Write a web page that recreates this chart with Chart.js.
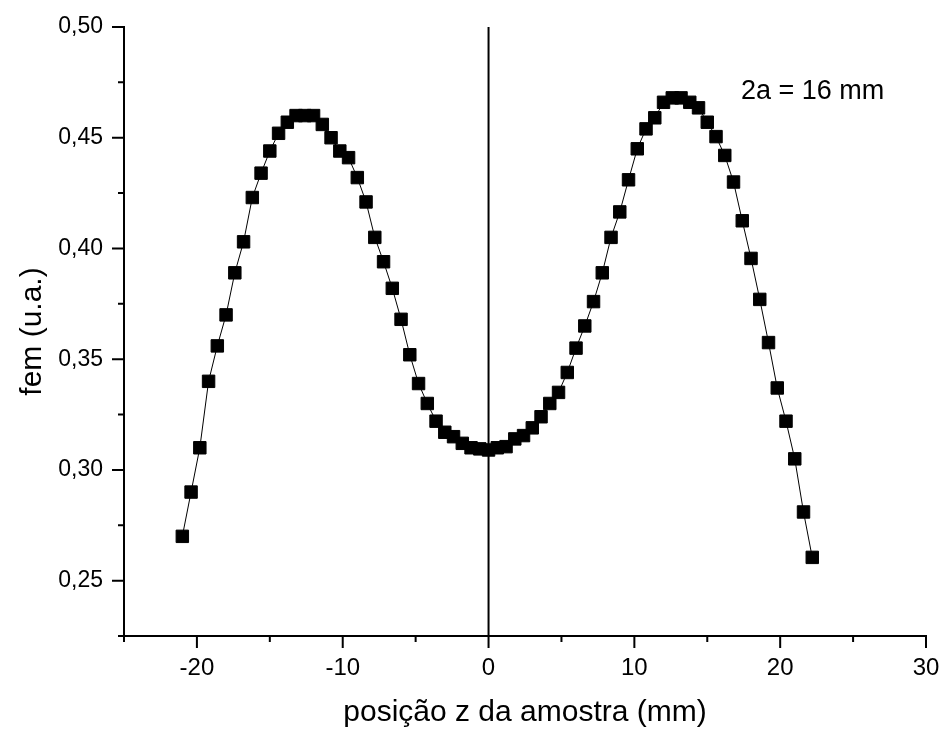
<!DOCTYPE html>
<html>
<head>
<meta charset="utf-8">
<script src="https://cdn.jsdelivr.net/npm/chart.js@4.4.0/dist/chart.umd.min.js"></script>
<style>
    html, body { margin: 0; padding: 0; background: #fff; }
    #wrap { width: 941px; height: 731px; }
</style>
</head>
<body>
<div id="wrap"><canvas id="femChart" width="941" height="731"></canvas></div>
<script>
// Position of the sample (mm) and measured emf (a.u.)
const zPos = [
    -21.0, -20.4, -19.8, -19.2, -18.6, -18.0, -17.4, -16.8, -16.2, -15.6,
    -15.0, -14.4, -13.8, -13.2, -12.6, -12.0, -11.4, -10.8, -10.2, -9.6,
    -9.0, -8.4, -7.8, -7.2, -6.6, -6.0, -5.4, -4.8, -4.2, -3.6,
    -3.0, -2.4, -1.8, -1.2, -0.6, 0.0, 0.6, 1.2, 1.8, 2.4,
    3.0, 3.6, 4.2, 4.8, 5.4, 6.0, 6.6, 7.2, 7.8, 8.4,
    9.0, 9.6, 10.2, 10.8, 11.4, 12.0, 12.6, 13.2, 13.8, 14.4,
    15.0, 15.6, 16.2, 16.8, 17.4, 18.0, 18.6, 19.2, 19.8, 20.4,
    21.0, 21.6, 22.2
];
const femValues = [
    0.270, 0.290, 0.310, 0.340, 0.356, 0.370, 0.389, 0.403, 0.423, 0.434,
    0.444, 0.452, 0.457, 0.460, 0.460, 0.460, 0.456, 0.450, 0.444, 0.441,
    0.432, 0.421, 0.405, 0.394, 0.382, 0.368, 0.352, 0.339, 0.330, 0.322,
    0.317, 0.315, 0.312, 0.310, 0.3095, 0.309, 0.310, 0.3105, 0.314, 0.3155,
    0.319, 0.324, 0.330, 0.335, 0.344, 0.355, 0.365, 0.376, 0.389, 0.405,
    0.4165, 0.431, 0.445, 0.454, 0.459, 0.466, 0.468, 0.468, 0.466, 0.4635,
    0.457, 0.4505, 0.442, 0.430, 0.4125, 0.3955, 0.377, 0.3575, 0.337, 0.322,
    0.305, 0.281, 0.2605
];

const xRange = [-25, 30];
const yRange = [0.225, 0.50];
const noteText = '2a = 16 mm';

const FONT = "'Liberation Sans', Arial, sans-serif";

// Draws tick marks (long for labelled, short for the others), the z = 0 line and the note
const axisExtras = {
    id: 'axisExtras',
    beforeDatasetsDraw(chart) {
        const { ctx, chartArea, scales } = chart;
        const x0 = scales.x.getPixelForValue(0);
        ctx.save();
        ctx.strokeStyle = '#000';
        ctx.lineWidth = 2;
        ctx.beginPath();
        ctx.moveTo(x0, chartArea.top);
        ctx.lineTo(x0, chartArea.bottom);
        ctx.stroke();
        ctx.restore();
    },
    afterDraw(chart) {
        const { ctx, chartArea, scales } = chart;
        ctx.save();
        ctx.strokeStyle = '#000';
        ctx.lineWidth = 2;
        ctx.beginPath();
        scales.x.ticks.forEach(t => {
            const px = scales.x.getPixelForValue(t.value);
            const len = t.label !== '' ? 12 : 6;
            ctx.moveTo(px, chartArea.bottom);
            ctx.lineTo(px, chartArea.bottom + len);
        });
        scales.y.ticks.forEach(t => {
            const py = scales.y.getPixelForValue(t.value);
            const len = t.label !== '' ? 12 : 6;
            ctx.moveTo(chartArea.left, py);
            ctx.lineTo(chartArea.left - len, py);
        });
        ctx.stroke();

        ctx.fillStyle = '#000';
        ctx.font = '27px ' + FONT;
        ctx.textAlign = 'left';
        ctx.textBaseline = 'middle';
        ctx.fillText(noteText, chartArea.left + 617, chartArea.top + 65);
        ctx.restore();
    }
};

// keep tick labels from pushing the plot area inwards
function noLabelPadding(scale) {
    scale.paddingTop = 0;
    scale.paddingBottom = 0;
    scale.paddingLeft = 0;
    scale.paddingRight = 0;
}

const ctx = document.getElementById('femChart').getContext('2d');
new Chart(ctx, {
    type: 'line',
    data: {
        datasets: [{
            data: zPos.map((z, i) => ({ x: z, y: femValues[i] })),
            borderColor: '#000',
            borderWidth: 1,
            backgroundColor: '#000',
            pointStyle: 'rect',
            pointRadius: 8.8,
            pointBorderWidth: 1,
            pointBorderColor: '#000',
            pointBackgroundColor: '#000',
            tension: 0,
            fill: false
        }]
    },
    options: {
        responsive: false,
        animation: false,
        events: [],
        layout: { padding: { top: 27, right: 15, left: 0, bottom: 0 } },
        plugins: {
            legend: { display: false },
            tooltip: { enabled: false }
        },
        scales: {
            x: {
                type: 'linear',
                min: xRange[0],
                max: xRange[1],
                afterFit: scale => { scale.height = 95; noLabelPadding(scale); },
                grid: { display: false, drawTicks: false },
                border: { display: true, color: '#000', width: 2 },
                ticks: {
                    stepSize: 5,
                    autoSkip: false,
                    maxRotation: 0,
                    padding: 18,
                    color: '#000',
                    font: { family: FONT, size: 24 },
                    callback: v => (Math.round(v) % 10 === 0 ? String(Math.round(v)) : '')
                },
                title: {
                    display: true,
                    text: 'posição z da amostra (mm)',
                    color: '#000',
                    font: { family: FONT, size: 30 },
                    padding: { top: 0, bottom: 0 }
                }
            },
            y: {
                type: 'linear',
                min: yRange[0],
                max: yRange[1],
                afterFit: scale => { scale.width = 124; noLabelPadding(scale); },
                grid: { display: false, drawTicks: false },
                border: { display: true, color: '#000', width: 2 },
                ticks: {
                    stepSize: 0.025,
                    autoSkip: false,
                    padding: 21,
                    color: '#000',
                    font: { family: FONT, size: 23 },
                    callback: v => {
                        const milli = Math.round(v * 1000);
                        return milli % 50 === 0 ? (milli / 1000).toFixed(2).replace('.', ',') : '';
                    }
                },
                title: {
                    display: true,
                    text: 'fem (u.a.)',
                    color: '#000',
                    font: { family: FONT, size: 30 },
                    padding: { top: 15, bottom: 0 }
                }
            }
        }
    },
    plugins: [axisExtras]
});
</script>
</body>
</html>
